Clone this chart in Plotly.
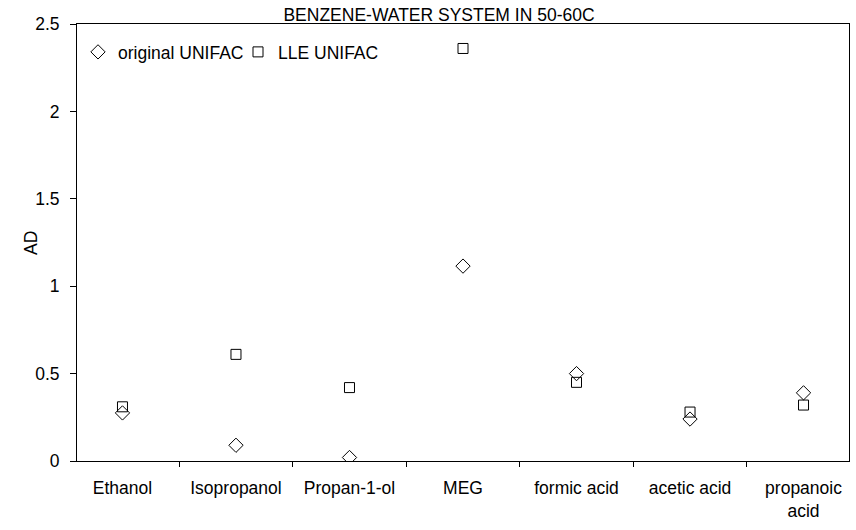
import plotly.graph_objects as go

categories = ["Ethanol", "Isopropanol", "Propan-1-ol", "MEG", "formic acid", "acetic acid", "propanoic<br>acid"]
original_unifac = [0.275, 0.09, 0.02, 1.115, 0.50, 0.24, 0.39]
lle_unifac = [0.31, 0.61, 0.42, 2.36, 0.45, 0.28, 0.32]
y_ticks = [0, 0.5, 1, 1.5, 2, 2.5]
y_tick_text = ["0", "0.5", "1", "1.5", "2", "2.5"]

FONT = "Liberation Sans, Arial, sans-serif"
fs = 17.5

fig = go.Figure()
fig.add_trace(go.Scatter(
    x=categories, y=original_unifac, mode="markers", name="original UNIFAC",
    marker=dict(symbol="diamond-open", size=11, color="black", line=dict(width=1, color="black")),
))
fig.add_trace(go.Scatter(
    x=categories, y=lle_unifac, mode="markers", name="LLE UNIFAC",
    marker=dict(symbol="square-open", size=10, color="black", line=dict(width=1, color="black")),
))

fig.add_annotation(text="AD", textangle=-90, xref="paper", yref="paper",
                   x=(31 - 77) / 772, y=(461 - 243) / 437, xanchor="center", yanchor="middle",
                   showarrow=False, font=dict(family=FONT, size=fs, color="black"))

fig.update_layout(
    width=856, height=530,
    margin=dict(l=77, r=7, t=24, b=69, autoexpand=False),
    paper_bgcolor="white", plot_bgcolor="white",
    font=dict(family=FONT, size=fs, color="black"),
    title=dict(text="BENZENE-WATER SYSTEM IN 50-60C", x=439/856, xref="container", xanchor="center",
               y=1 - 15/530, yref="container", yanchor="middle",
               font=dict(family=FONT, size=fs, color="black")),
    showlegend=True,
    legend=dict(orientation="h", x=1/772, xanchor="left", y=1 - 10/437, yanchor="top",
                bgcolor="rgba(0,0,0,0)", font=dict(family=FONT, size=fs), itemwidth=30,
                entrywidth=115, entrywidthmode="pixels", tracegroupgap=0),
    xaxis=dict(type="category", showline=True, linecolor="black", linewidth=1, mirror=True,
               ticks="outside", tickson="boundaries", ticklen=5, tickcolor="black",
               ticklabelstandoff=11, automargin=False,
               showgrid=False, zeroline=False, tickfont=dict(family=FONT, size=fs)),
    yaxis=dict(range=[0, 2.5], tickvals=y_ticks, ticktext=y_tick_text, showline=True, linecolor="black",
               linewidth=1, mirror=True, ticks="outside", ticklen=6, tickcolor="black",
               ticklabelstandoff=7, automargin=False,
               showgrid=False, zeroline=False,
               tickfont=dict(family=FONT, size=fs)),
)

fig.write_html("out.html")
